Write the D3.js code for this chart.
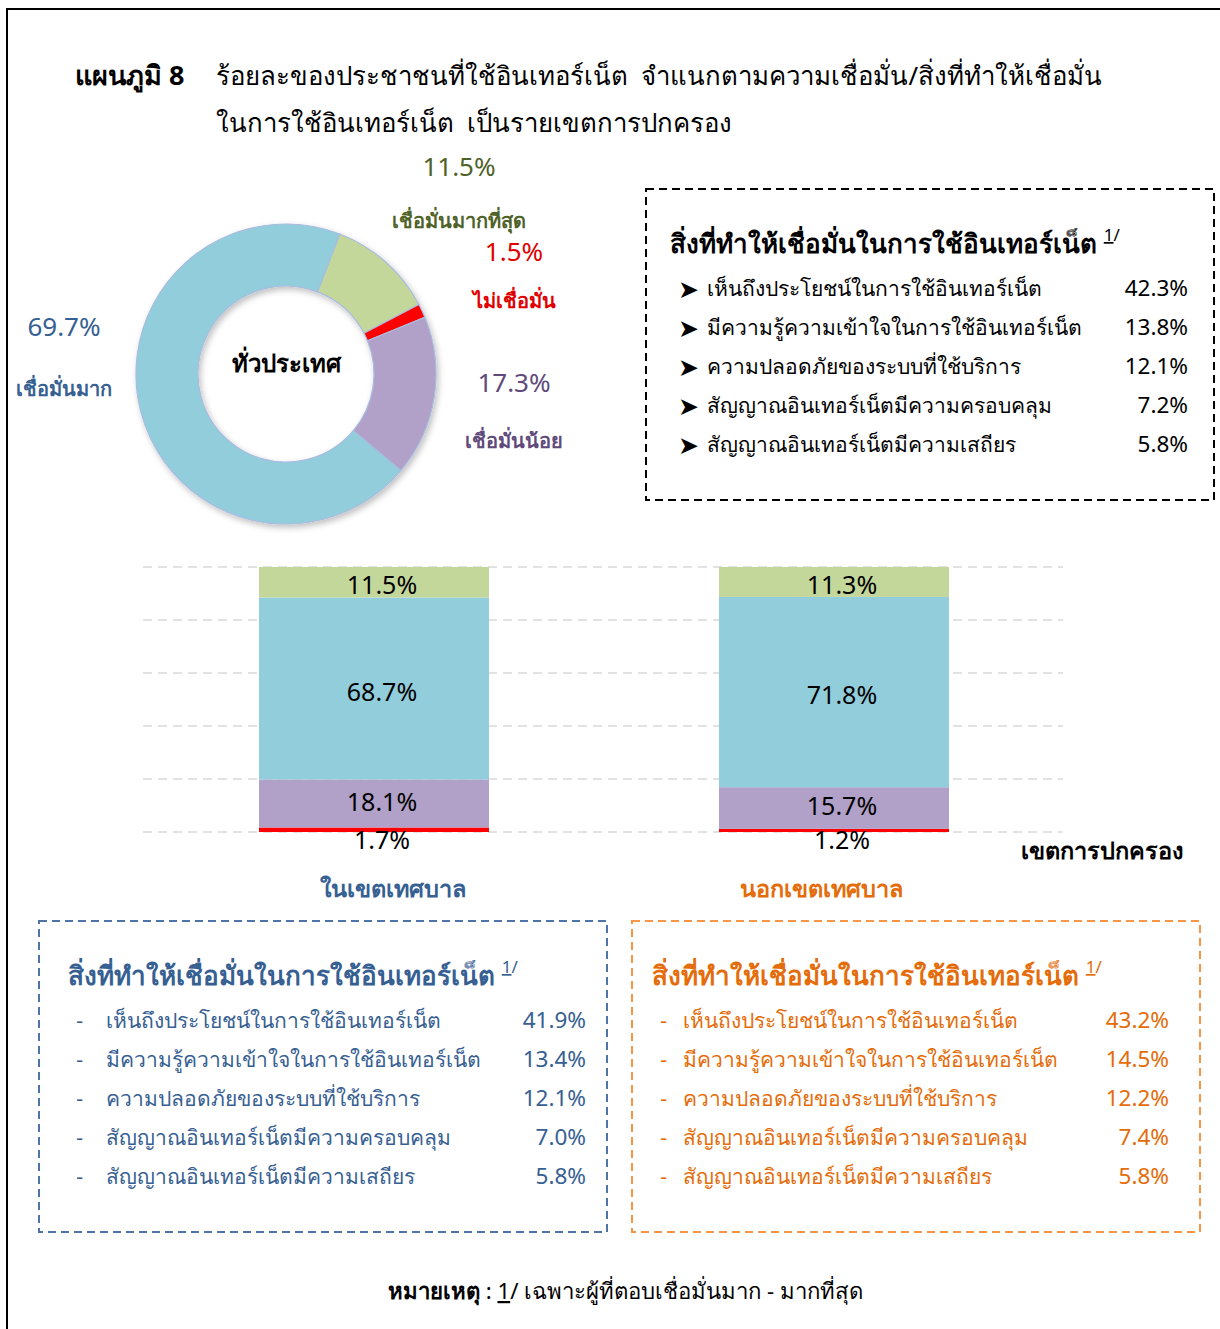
<!DOCTYPE html>
<html>
<head>
<meta charset="utf-8">
<script src="https://cdn.jsdelivr.net/npm/d3@7"></script>
<style>
  body { margin: 0; background: #fff; }
  svg { display: block; font-family: "Noto Sans", "DejaVu Sans", sans-serif; }
  text { white-space: pre; }
</style>
</head>
<body>
<div id="chart"></div>
<script>
// ---- data ----
const donutCats = ["เชื่อมั่นมากที่สุด", "ไม่เชื่อมั่น", "เชื่อมั่นน้อย", "เชื่อมั่นมาก"];
const donutValues = [11.5, 1.5, 17.3, 69.7];

const areas = ["ในเขตเทศบาล", "นอกเขตเทศบาล"];
const stackKeys = ["ไม่เชื่อมั่น", "เชื่อมั่นน้อย", "เชื่อมั่นมาก", "เชื่อมั่นมากที่สุด"];
const insideValues = [1.7, 18.1, 68.7, 11.5];
const outsideValues = [1.2, 15.7, 71.8, 11.3];
const gridTicks = [0, 20, 40, 60, 80, 100];

const reasons = [
  "เห็นถึงประโยชน์ในการใช้อินเทอร์เน็ต",
  "มีความรู้ความเข้าใจในการใช้อินเทอร์เน็ต",
  "ความปลอดภัยของระบบที่ใช้บริการ",
  "สัญญาณอินเทอร์เน็ตมีความครอบคลุม",
  "สัญญาณอินเทอร์เน็ตมีความเสถียร"
];
const reasonsAll = [42.3, 13.8, 12.1, 7.2, 5.8];
const reasonsInside = [41.9, 13.4, 12.1, 7.0, 5.8];
const reasonsOutside = [43.2, 14.5, 12.2, 7.4, 5.8];

// colours per confidence level
const fillColor = d3.scaleOrdinal()
  .domain(["เชื่อมั่นมากที่สุด", "ไม่เชื่อมั่น", "เชื่อมั่นน้อย", "เชื่อมั่นมาก"])
  .range(["#C4D79B", "#FF0000", "#B1A0C7", "#92CDDC"]);
const textColor = d3.scaleOrdinal()
  .domain(["เชื่อมั่นมากที่สุด", "ไม่เชื่อมั่น", "เชื่อมั่นน้อย", "เชื่อมั่นมาก"])
  .range(["#4F6228", "#E00000", "#604A7B", "#366092"]);

const W = 1220, H = 1329;
const svg = d3.select("#chart").append("svg")
  .attr("width", W)
  .attr("height", H);

const defs = svg.append("defs");
const shadow = defs.append("filter").attr("id", "shadow")
  .attr("x", "-20%").attr("y", "-20%").attr("width", "140%").attr("height", "140%");
shadow.append("feDropShadow")
  .attr("dx", 2).attr("dy", 3).attr("stdDeviation", 3)
  .attr("flood-color", "#000").attr("flood-opacity", 0.25);

// outer frame
svg.append("rect")
  .attr("x", 7).attr("y", 9)
  .attr("width", W + 20).attr("height", H + 20)
  .attr("fill", "none").attr("stroke", "#000").attr("stroke-width", 2);

// title
const title = svg.append("g").attr("font-size", 25.8);
title.append("text").attr("x", 75).attr("y", 85)
  .attr("font-weight", "bold").attr("font-size", 27).text("แผนภูมิ 8");
title.append("text").attr("x", 216).attr("y", 85)
  .text("ร้อยละของประชาชนที่ใช้อินเทอร์เน็ต  จำแนกตามความเชื่อมั่น/สิ่งที่ทำให้เชื่อมั่น");
title.append("text").attr("x", 216).attr("y", 132)
  .text("ในการใช้อินเทอร์เน็ต  เป็นรายเขตการปกครอง");

// ---- donut ----
const cx = 286, cy = 374, rOuter = 150, rInner = 88;
const pie = d3.pie().sort(null)
  .startAngle(21 * Math.PI / 180)
  .endAngle(21 * Math.PI / 180 + 2 * Math.PI);
const arc = d3.arc().innerRadius(rInner).outerRadius(rOuter);

const donut = svg.append("g").attr("transform", `translate(${cx},${cy})`);
donut.append("g").attr("filter", "url(#shadow)")
  .selectAll("path")
  .data(pie(donutValues))
  .join("path")
  .attr("d", arc)
  .attr("fill", (d, i) => fillColor(donutCats[i]))
  .attr("stroke", "#A9BCE0")
  .attr("stroke-width", 1.2);

donut.append("text")
  .attr("text-anchor", "middle").attr("y", -2)
  .attr("font-size", 24).attr("font-weight", "bold")
  .text("ทั่วประเทศ");

// label placement relative to donut centre (value line, name line)
const donutLabelPos = {
  "เชื่อมั่นมากที่สุด": [173, -198, -146],
  "ไม่เชื่อมั่น": [228, -113, -66],
  "เชื่อมั่นน้อย": [228, 18, 74],
  "เชื่อมั่นมาก": [-222, -38, 22]
};
donutCats.forEach((c, i) => {
  const p = donutLabelPos[c];
  const g = donut.append("g").attr("fill", textColor(c)).attr("text-anchor", "middle");
  g.append("text").attr("x", p[0]).attr("y", p[1])
    .attr("font-size", 26).text(d3.format(".1f")(donutValues[i]) + "%");
  g.append("text").attr("x", p[0]).attr("y", p[2])
    .attr("font-size", 20).attr("font-weight", "bold").text(c);
});

// ---- reasons boxes ----
function reasonBox(opts) {
  const g = svg.append("g");
  g.append("rect")
    .attr("x", opts.x).attr("y", opts.y)
    .attr("width", opts.w).attr("height", opts.h)
    .attr("fill", "none").attr("stroke", opts.stroke)
    .attr("stroke-width", 2).attr("stroke-dasharray", "8,5");
  const t = g.append("text")
    .attr("x", opts.titleX).attr("y", opts.y + 64)
    .attr("fill", opts.color).attr("font-size", 26).attr("font-weight", "bold")
    .text("สิ่งที่ทำให้เชื่อมั่นในการใช้อินเทอร์เน็ต ");
  t.append("tspan").attr("font-size", 17).attr("font-weight", "normal")
    .attr("dy", -12).attr("text-decoration", "underline").text("1");
  t.append("tspan").attr("font-size", 17).attr("font-weight", "normal").text("/");

  const rowY = d3.scalePoint().domain(d3.range(reasons.length))
    .range([opts.y + 107, opts.y + 263]);
  const isArrow = opts.bullet === "➤";
  reasons.forEach((r, i) => {
    const y = rowY(i);
    g.append("text").attr("x", opts.bulletX).attr("y", y + (isArrow ? 2 : 0))
      .attr("fill", opts.color).attr("font-size", isArrow ? 25 : 20)
      .attr("font-family", "DejaVu Sans")
      .text(opts.bullet);
    g.append("text").attr("x", opts.textX).attr("y", y)
      .attr("fill", opts.color).attr("font-size", 21).text(r);
    g.append("text").attr("x", opts.valX).attr("y", y)
      .attr("text-anchor", "end")
      .attr("fill", opts.color).attr("font-size", 22.5)
      .text(d3.format(".1f")(opts.values[i]) + "%");
  });
}

reasonBox({ x: 646, y: 189, w: 568, h: 311, stroke: "#000", color: "#000",
  titleX: 670, bullet: "➤", bulletX: 678, textX: 707, valX: 1188, values: reasonsAll });
reasonBox({ x: 39, y: 921, w: 568, h: 311, stroke: "#4F74A8", color: "#376092",
  titleX: 68, bullet: "-", bulletX: 76, textX: 106, valX: 586, values: reasonsInside });
reasonBox({ x: 632, y: 921, w: 568, h: 311, stroke: "#F79646", color: "#E46C0A",
  titleX: 652, bullet: "-", bulletX: 660, textX: 683, valX: 1169, values: reasonsOutside });

// ---- stacked bars ----
const plot = { left: 143, right: 1063, top: 567, bottom: 832 };
const x = d3.scaleBand().domain(areas)
  .range([plot.left, plot.right]).paddingInner(0.5).paddingOuter(0.25);
const y = d3.scaleLinear().domain([0, 100]).range([plot.bottom, plot.top]);

const table = areas.map((a, i) => {
  const vals = i === 0 ? insideValues : outsideValues;
  const row = { area: a };
  stackKeys.forEach((k, j) => row[k] = vals[j]);
  return row;
});
const series = d3.stack().keys(stackKeys)(table);

svg.append("g")
  .selectAll("line")
  .data(gridTicks)
  .join("line")
  .attr("x1", plot.left).attr("x2", plot.right)
  .attr("y1", d => y(d)).attr("y2", d => y(d))
  .attr("stroke", "#D9D9D9").attr("stroke-width", 1.5)
  .attr("stroke-dasharray", "9,6");

const bars = svg.append("g");
series.forEach(s => {
  bars.append("g").attr("fill", fillColor(s.key))
    .selectAll("rect")
    .data(s)
    .join("rect")
    .attr("x", d => x(d.data.area) + 1)
    .attr("width", x.bandwidth())
    .attr("y", d => y(d[1]))
    .attr("height", d => y(d[0]) - y(d[1]));
});
series.forEach(s => {
  bars.append("g")
    .selectAll("text")
    .data(s)
    .join("text")
    .attr("x", d => x(d.data.area) + x.bandwidth() / 2 + 9)
    // the thin bottom segment gets its label just under the baseline
    .attr("y", d => s.key === "ไม่เชื่อมั่น" ? y(d[0]) + 17
      : (y(d[0]) + y(d[1])) / 2 + (s.key === "เชื่อมั่นน้อย" ? 7 : 12))
    .attr("text-anchor", "middle")
    .attr("font-size", 25)
    .text(d => d3.format(".1f")(d[1] - d[0]) + "%");
});

const catColors = ["#366092", "#E46C0A"];
svg.append("g")
  .selectAll("text")
  .data(areas)
  .join("text")
  .attr("x", (d, i) => x(d) + x.bandwidth() / 2 + (i === 0 ? 20 : -12))
  .attr("y", 897)
  .attr("text-anchor", "middle")
  .attr("font-size", 23.5).attr("font-weight", "bold")
  .attr("fill", (d, i) => catColors[i])
  .text(d => d);

svg.append("text")
  .attr("x", 1183).attr("y", 859)
  .attr("text-anchor", "end")
  .attr("font-size", 23.5).attr("font-weight", "bold")
  .text("เขตการปกครอง");

// ---- footnote ----
const note = svg.append("text").attr("x", 388).attr("y", 1299).attr("font-size", 22.2);
note.append("tspan").attr("font-weight", "bold").text("หมายเหตุ");
note.append("tspan").text(" : ");
note.append("tspan").attr("text-decoration", "underline").text("1");
note.append("tspan").text("/ เฉพาะผู้ที่ตอบเชื่อมั่นมาก - มากที่สุด");
</script>
</body>
</html>
